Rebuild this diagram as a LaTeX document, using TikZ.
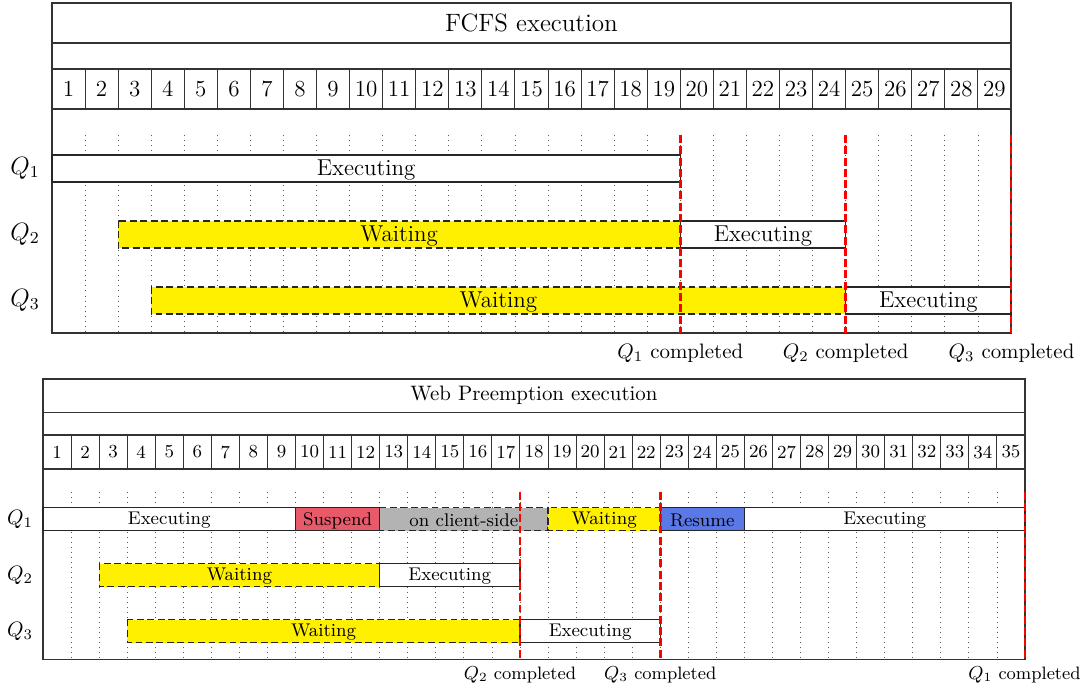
\documentclass[tikz,border=0pt]{standalone}
\usetikzlibrary{calc}
\definecolor{wyellow}{RGB}{255,240,0}
\definecolor{susred}{RGB}{232,90,106}
\definecolor{resblue}{RGB}{90,120,230}
\definecolor{cgray}{RGB}{179,179,179}
\newcommand{\tfont}{\fontsize{11}{13}\selectfont}
\newcommand{\ttitlefont}{\fontsize{12}{14}\selectfont}
\newcommand{\tqfont}{\fontsize{12}{14}\selectfont}
\newcommand{\tcfont}{\fontsize{10}{12}\selectfont}
\newcommand{\bfontx}{\fontsize{8.8}{10}\selectfont}
\newcommand{\btitlefont}{\fontsize{10}{12}\selectfont}
\newcommand{\bqfont}{\fontsize{10}{12}\selectfont}
\newcommand{\bcfont}{\fontsize{8.6}{10}\selectfont}
\tikzset{
  frame/.style={draw=black!80, line width=0.5pt},
  dotline/.style={draw=black!65, line width=0.4pt, dash pattern=on 0.4pt off 2pt},
  compl/.style={draw=red, line width=1.2pt, dash pattern=on 3.8pt off 1.6pt},
  execbox/.style={draw=black!85, fill=white, line width=0.55pt},
  waitbox/.style={draw=black!85, fill=wyellow, line width=0.55pt, dash pattern=on 3.2pt off 1.8pt},
  clientbox/.style={draw=black!85, fill=cgray, line width=0.55pt, dash pattern=on 3.2pt off 1.8pt},
  suspbox/.style={draw=black!85, fill=susred, line width=0.55pt},
  resbox/.style={draw=black!85, fill=resblue, line width=0.55pt},
  lbl/.style={inner sep=0pt, outer sep=0pt}
}
% name, style, x1, x2, ycenter, halfheight, font, text
\newcommand{\gbar}[8]{%
  \draw[#2] (#3,#5-#6) rectangle (#4,#5+#6);
  \node[lbl, font=#7] (#1) at ({(#3+#4)/2},#5+1.3) {#8};}
\begin{document}
\begin{tikzpicture}[x=0.4785pt, y=-0.4785pt]
\useasboundingbox (0,0) rectangle (1086,690);
% ================= TOP: FCFS =================
\def\tc{33.069}
\draw[frame] (52,3) rectangle (1011,43);
\node[lbl, font=\ttitlefont] (ttitle) at (531.5,23) {FCFS execution};
\draw[frame] (52,43) rectangle (1011,69);
\foreach \i in {1,...,29} {
  \draw[frame] ({52+(\i-1)*\tc},69) rectangle ({52+\i*\tc},109);
  \node[lbl, font=\tfont] (tn\i) at ({52+(\i-0.5)*\tc},89) {\i};
}
\foreach \i in {1,...,28} {
  \draw[dotline] ({52+\i*\tc},135) -- ({52+\i*\tc},333);
}
\draw[frame] (52,109) -- (52,333) -- (1011,333) -- (1011,109);
% bars
\gbar{tq1e}{execbox}{52}{680.31}{168.5}{13.5}{\tfont}{Executing}
\gbar{tq2w}{waitbox}{118.14}{680.31}{234.5}{13.5}{\tfont}{Waiting}
\gbar{tq2e}{execbox}{680.31}{845.66}{234.5}{13.5}{\tfont}{Executing}
\gbar{tq3w}{waitbox}{151.21}{845.66}{300.5}{13.5}{\tfont}{Waiting}
\gbar{tq3e}{execbox}{845.66}{1011}{300.5}{13.5}{\tfont}{Executing}
% row labels
\node[lbl, font=\tqfont] (tQ1) at (25,168) {$Q_1$};
\node[lbl, font=\tqfont] (tQ2) at (25,234) {$Q_2$};
\node[lbl, font=\tqfont] (tQ3) at (25,300) {$Q_3$};
% completion lines
\coordinate (tc1a) at (680.31,135); \coordinate (tc1b) at (680.31,333);
\coordinate (tc2a) at (845.66,135); \coordinate (tc2b) at (845.66,333);
\coordinate (tc3a) at (1011,135);   \coordinate (tc3b) at (1011,333);
\draw[compl] (tc1a) -- (tc1b);
\draw[compl] (tc2a) -- (tc2b);
\draw[compl] (tc3a) -- (tc3b);
\node[lbl, font=\tcfont] (tl1) at (680.31,353) {$Q_1$ completed};
\node[lbl, font=\tcfont] (tl2) at (845.66,353) {$Q_2$ completed};
\node[lbl, font=\tcfont] (tl3) at (1011.5,353) {$Q_3$ completed};
% ================= BOTTOM: Web Preemption =================
\def\bc{28.057}
\draw[frame] (43,379) rectangle (1025,412.7);
\node[lbl, font=\btitlefont] (btitle) at (534,395.5) {Web Preemption execution};
\draw[frame] (43,412.7) rectangle (1025,435);
\foreach \i in {1,...,35} {
  \draw[frame] ({43+(\i-1)*\bc},435) rectangle ({43+\i*\bc},469);
  \node[lbl, font=\bfontx] (bn\i) at ({43+(\i-0.5)*\bc},452) {\i};
}
\foreach \i in {1,...,34} {
  \draw[dotline] ({43+\i*\bc},491.7) -- ({43+\i*\bc},659.3);
}
\draw[frame] (43,469) -- (43,659.3) -- (1025,659.3) -- (1025,469);
% bars
\gbar{bq1e}{execbox}{43}{295.51}{519.3}{11.5}{\bfontx}{Executing}
\gbar{bq1s}{suspbox}{295.51}{379.68}{519.3}{11.5}{\bfontx}{Suspend}
\gbar{bq1c}{clientbox}{379.68}{548.03}{519.3}{11.5}{\bfontx}{on client-side}
\gbar{bq1w}{waitbox}{548.03}{660.25}{519.3}{11.5}{\bfontx}{Waiting}
\gbar{bq1r}{resbox}{660.25}{744.43}{519.3}{11.5}{\bfontx}{Resume}
\gbar{bq1x}{execbox}{744.43}{1025}{519.3}{11.5}{\bfontx}{Executing}
\gbar{bq2w}{waitbox}{99.11}{379.68}{575.3}{11.5}{\bfontx}{Waiting}
\gbar{bq2e}{execbox}{379.68}{519.97}{575.3}{11.5}{\bfontx}{Executing}
\gbar{bq3w}{waitbox}{127.17}{519.97}{631.3}{11.5}{\bfontx}{Waiting}
\gbar{bq3e}{execbox}{519.97}{660.25}{631.3}{11.5}{\bfontx}{Executing}
% row labels
\node[lbl, font=\bqfont] (bQ1) at (20,519) {$Q_1$};
\node[lbl, font=\bqfont] (bQ2) at (20,575) {$Q_2$};
\node[lbl, font=\bqfont] (bQ3) at (20,631) {$Q_3$};
% completion lines
\coordinate (bc2a) at (519.97,491.7); \coordinate (bc2b) at (519.97,659.3);
\coordinate (bc3a) at (660.25,491.7); \coordinate (bc3b) at (660.25,659.3);
\coordinate (bc1a) at (1025,491.7);   \coordinate (bc1b) at (1025,659.3);
\draw[compl] (bc2a) -- (bc2b);
\draw[compl] (bc3a) -- (bc3b);
\draw[compl] (bc1a) -- (bc1b);
\node[lbl, font=\bcfont] (bl2) at (519.97,675) {$Q_2$ completed};
\node[lbl, font=\bcfont] (bl3) at (660.25,675) {$Q_3$ completed};
\node[lbl, font=\bcfont] (bl1) at (1024.5,675) {$Q_1$ completed};
\end{tikzpicture}
\end{document}
